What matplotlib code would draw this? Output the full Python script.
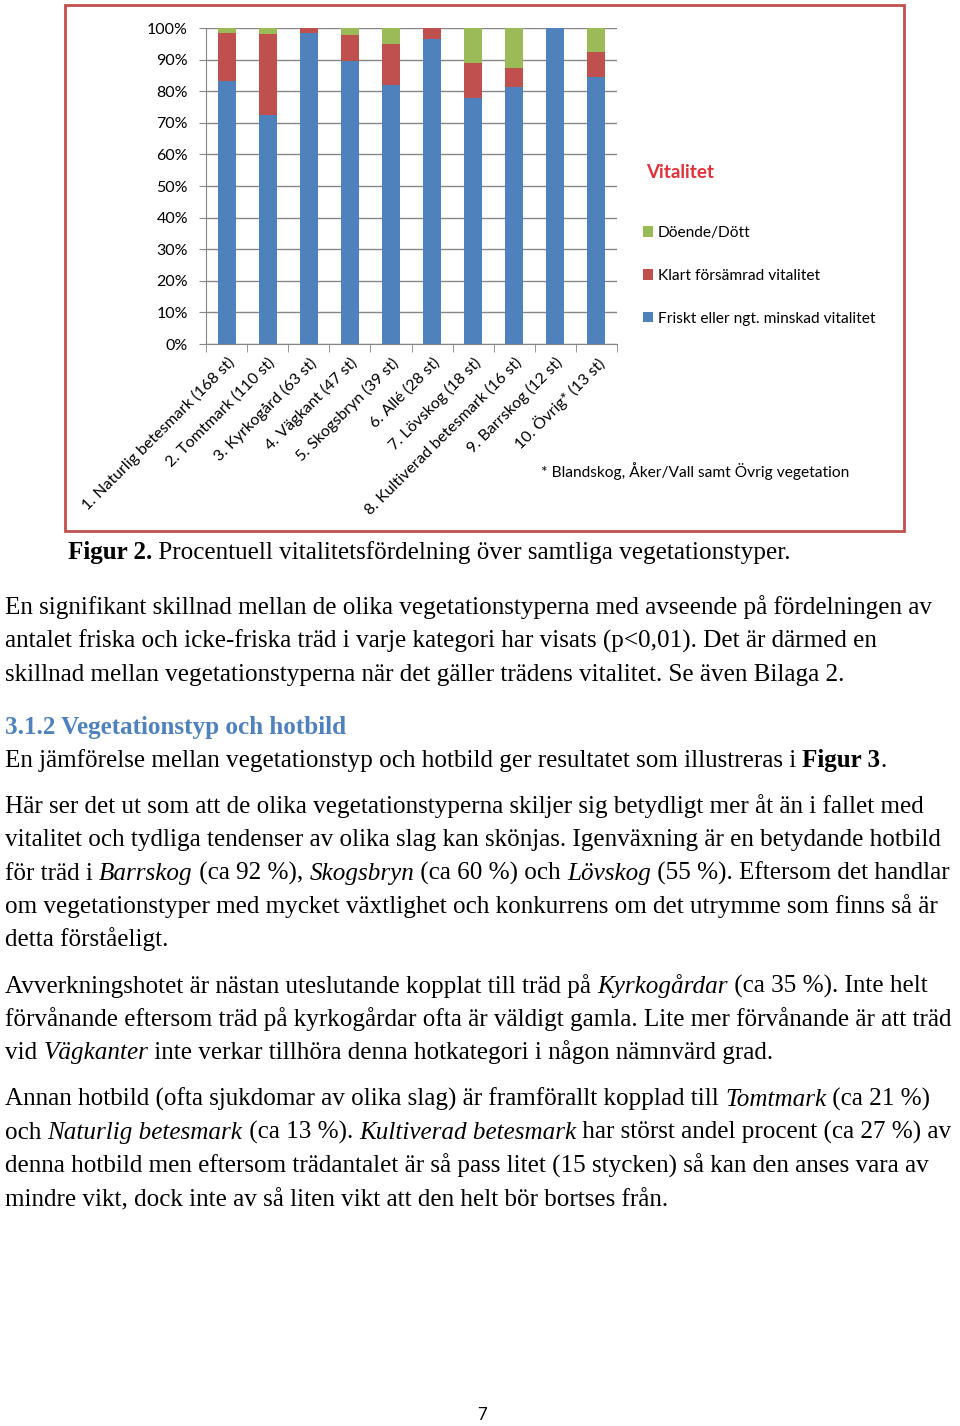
#!/usr/bin/env python3
"""
Page 7: vitality per vegetation type (Figur 2) with the report text below.
"""

import matplotlib
matplotlib.use('Agg')
import matplotlib.pyplot as plt
from matplotlib.patches import Rectangle

W, H = 960, 1426

categories = ['1. Naturlig betesmark (168 st)', '2. Tomtmark (110 st)',
              '3. Kyrkogård (63 st)', '4. Vägkant (47 st)',
              '5. Skogsbryn (39 st)', '6. Allé (28 st)', '7. Lövskog (18 st)',
              '8. Kultiverad betesmark (16 st)', '9. Barrskog (12 st)',
              '10. Övrig* (13 st)']
# percent of trees per class
friskt = [83.3, 72.5, 98.4, 89.4, 82.0, 96.4, 77.8, 81.2, 100.0, 84.6]
forsamrad = [15.0, 25.5, 1.6, 8.5, 12.8, 3.6, 11.1, 6.3, 0.0, 7.7]
doende = [1.7, 2.0, 0.0, 2.1, 5.2, 0.0, 11.1, 12.5, 0.0, 7.7]
yticks = [0, 10, 20, 30, 40, 50, 60, 70, 80, 90, 100]

series_labels = ['Friskt eller ngt. minskad vitalitet',
                 'Klart försämrad vitalitet', 'Döende/Dött']
colors = ['#4f81bd', '#c0504d', '#9bbb59']

SANS = 'Lato'
SERIF = 'Liberation Serif'
BODY = 18.1

fig = plt.figure(figsize=(W / 100, H / 100), dpi=100)


def fx(px):
    return px / W


def fy(py):
    return 1 - py / H


# chart frame
fig.patches.append(Rectangle((fx(65), fy(531)), fx(904) - fx(65), fy(5) - fy(531),
                             transform=fig.transFigure, fill=False,
                             edgecolor='#c0504d', lw=2))

ax = fig.add_axes([fx(206), fy(344), fx(617) - fx(206), fy(28) - fy(344)])
x = list(range(len(categories)))
bottom2 = [a + b for a, b in zip(friskt, forsamrad)]
b1 = ax.bar(x, friskt, width=0.44, color=colors[0], label=series_labels[0])
b2 = ax.bar(x, forsamrad, width=0.44, bottom=friskt, color=colors[1],
            label=series_labels[1])
b3 = ax.bar(x, doende, width=0.44, bottom=bottom2, color=colors[2],
            label=series_labels[2])

ax.set_xlim(-0.5, len(categories) - 0.5)
ax.set_ylim(0, 100)
ax.set_yticks(yticks)
ax.set_yticklabels([f'{v}%' for v in yticks], fontsize=11.5, family=SANS)
ax.yaxis.grid(True, color='#868686', lw=1)
ax.set_axisbelow(True)
for s in ('top', 'right'):
    ax.spines[s].set_visible(False)
for s in ('left', 'bottom'):
    ax.spines[s].set_color('#868686')
ax.tick_params(axis='y', length=5, color='#868686', pad=8)
ax.set_xticks(x)
ax.set_xticklabels(categories, rotation=45, ha='right', va='top',
                   rotation_mode='anchor', fontsize=11.5, family=SANS)
ax.tick_params(axis='x', which='major', length=0, pad=8)
ax.set_xticks([i - 0.5 for i in range(len(categories) + 1)], minor=True)
ax.tick_params(axis='x', which='minor', length=6, color='#868686')

fig.text(fx(646), fy(172), 'Vitalitet', fontsize=13.5, family=SANS,
         weight='bold', color='#e0323a', va='center')
fig.legend(handles=[b3, b2, b1], loc='upper left',
           bbox_to_anchor=(fx(629), fy(212)), frameon=False,
           prop={'family': SANS, 'size': 11.2}, handlelength=0.65,
           handleheight=0.65, handletextpad=0.3, labelspacing=1.85)
fig.text(fx(541), fy(471), '* Blandskog, Åker/Vall samt Övrig vegetation',
         fontsize=11.2, family=SANS, va='center')

renderer = fig.canvas.get_renderer()


def run_width(txt, prop):
    w1 = renderer.get_text_width_height_descent(txt + '|', prop, ismath=False)[0]
    w0 = renderer.get_text_width_height_descent('|', prop, ismath=False)[0]
    return w1 - w0


def put_line(xpx, ypx, runs, size=BODY, family=SERIF, color='black'):
    for txt, st in runs:
        kw = dict(fontsize=size, family=family, color=color)
        if 'b' in st:
            kw['weight'] = 'bold'
        if 'i' in st:
            kw['style'] = 'italic'
        t = fig.text(fx(xpx), fy(ypx), txt, va='baseline', **kw)
        xpx += run_width(txt, t.get_fontproperties())


put_line(68, 559, [('Figur 2.', 'b'),
                   (' Procentuell vitalitetsfördelning över samtliga vegetationstyper.', '')])

lines = [
    (614, [('En signifikant skillnad mellan de olika vegetationstyperna med avseende på fördelningen av', '')]),
    (648, [('antalet friska och icke-friska träd i varje kategori har visats (p<0,01). Det är därmed en', '')]),
    (681, [('skillnad mellan vegetationstyperna när det gäller trädens vitalitet. Se även Bilaga 2.', '')]),
    (767, [('En jämförelse mellan vegetationstyp och hotbild ger resultatet som illustreras i ', ''),
           ('Figur 3', 'b'), ('.', '')]),
    (813, [('Här ser det ut som att de olika vegetationstyperna skiljer sig betydligt mer åt än i fallet med', '')]),
    (846, [('vitalitet och tydliga tendenser av olika slag kan skönjas. Igenväxning är en betydande hotbild', '')]),
    (880, [('för träd i ', ''), ('Barrskog', 'i'), (' (ca 92 %), ', ''), ('Skogsbryn', 'i'),
           (' (ca 60 %) och ', ''), ('Lövskog', 'i'),
           (' (55 %). Eftersom det handlar', '')]),
    (913, [('om vegetationstyper med mycket växtlighet och konkurrens om det utrymme som finns så är', '')]),
    (946, [('detta förståeligt.', '')]),
    (993, [('Avverkningshotet är nästan uteslutande kopplat till träd på ', ''), ('Kyrkogårdar', 'i'),
           (' (ca 35 %). Inte helt', '')]),
    (1026, [('förvånande eftersom träd på kyrkogårdar ofta är väldigt gamla. Lite mer förvånande är att träd', '')]),
    (1059, [('vid ', ''), ('Vägkanter', 'i'), (' inte verkar tillhöra denna hotkategori i någon nämnvärd grad.', '')]),
    (1106, [('Annan hotbild (ofta sjukdomar av olika slag) är framförallt kopplad till ', ''),
            ('Tomtmark', 'i'), (' (ca 21 %)', '')]),
    (1139, [('och ', ''), ('Naturlig betesmark', 'i'), (' (ca 13 %). ', ''),
            ('Kultiverad betesmark', 'i'), (' har störst andel procent (ca 27 %) av', '')]),
    (1173, [('denna hotbild men eftersom trädantalet är så pass litet (15 stycken) så kan den anses vara av', '')]),
    (1206, [('mindre vikt, dock inte av så liten vikt att den helt bör bortses från.', '')]),
]
for ypx, runs in lines:
    put_line(5, ypx, runs)

put_line(5, 734, [('3.1.2 Vegetationstyp och hotbild', 'b')], size=18.1,
         color='#4f81bd')

fig.text(fx(482), fy(1415), '7', fontsize=12, family=SANS, ha='center',
         va='center')

fig.savefig('out.png', dpi=100)
